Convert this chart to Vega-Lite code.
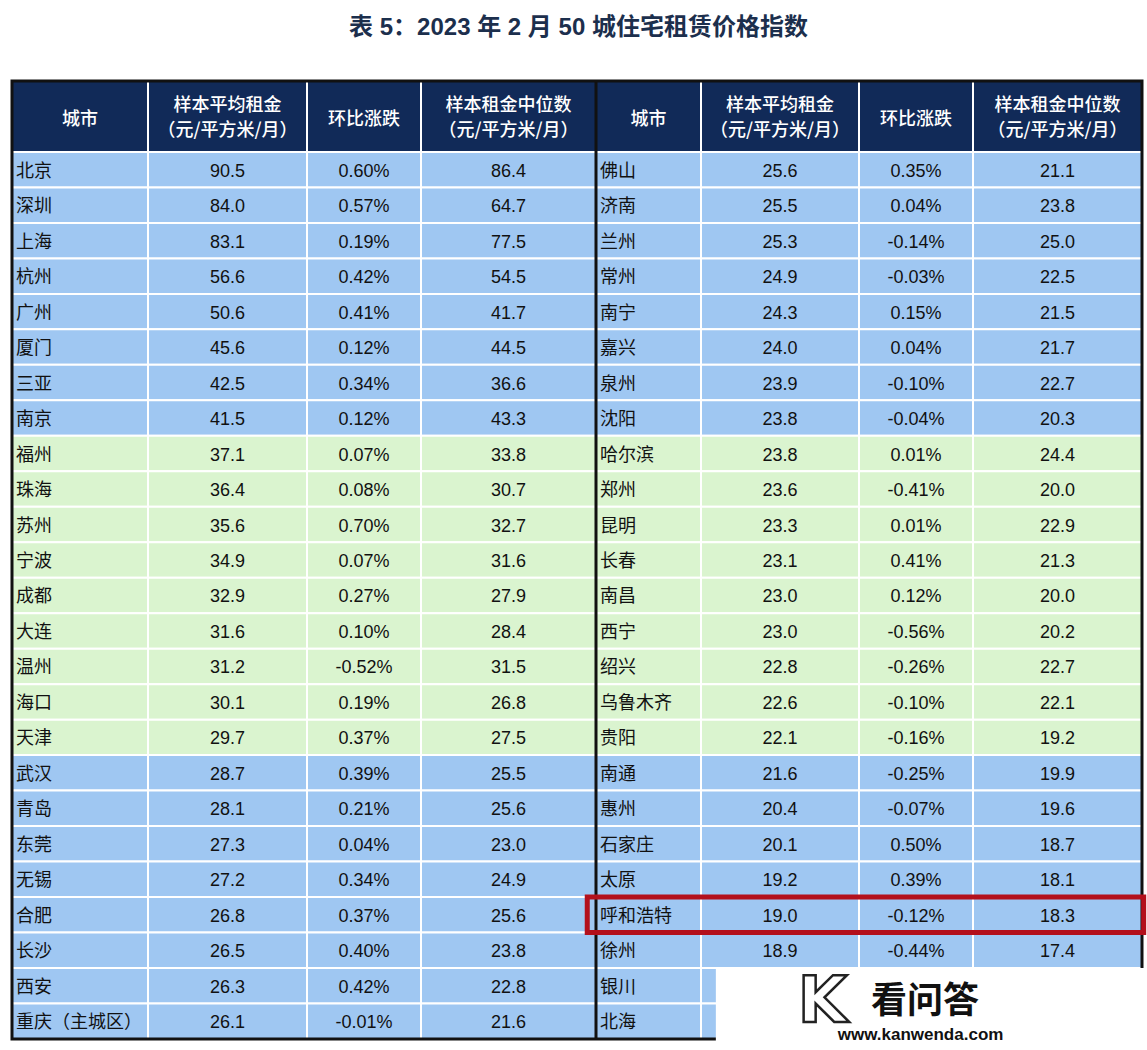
{
  "$schema": "https://vega.github.io/schema/vega-lite/v6.json",
  "width": 1147,
  "height": 1050,
  "autosize": "none",
  "padding": 0,
  "background": "white",
  "config": {
    "view": {"stroke": null},
    "axis": {"disable": true},
    "text": {"font": "Liberation Sans, Noto Sans CJK SC", "fontSize": 18, "color": "#111111"},
    "locale": {"number": {"decimal": ".", "thousands": ",", "grouping": [3], "currency": ["", ""], "minus": "-"}}
  },
  "datasets": {
    "cols": [
      {"key": "city1", "c0": 0, "c1": 1, "cm": 0.5},
      {"key": "avg1", "c0": 1, "c1": 2, "cm": 1.5},
      {"key": "chg1", "c0": 2, "c1": 3, "cm": 2.5},
      {"key": "med1", "c0": 3, "c1": 4, "cm": 3.5},
      {"key": "city2", "c0": 4, "c1": 5, "cm": 4.5},
      {"key": "avg2", "c0": 5, "c1": 6, "cm": 5.5},
      {"key": "chg2", "c0": 6, "c1": 7, "cm": 6.5},
      {"key": "med2", "c0": 7, "c1": 8, "cm": 7.5}
    ],
    "header": [
      {"key": "city1", "label": ["城市"]},
      {"key": "avg1", "label": ["样本平均租金", "（元/平方米/月）"]},
      {"key": "chg1", "label": ["环比涨跌"]},
      {"key": "med1", "label": ["样本租金中位数", "（元/平方米/月）"]},
      {"key": "city2", "label": ["城市"]},
      {"key": "avg2", "label": ["样本平均租金", "（元/平方米/月）"]},
      {"key": "chg2", "label": ["环比涨跌"]},
      {"key": "med2", "label": ["样本租金中位数", "（元/平方米/月）"]}
    ],
    "table": [
      {"city1": "北京", "avg1": 90.5, "chg1": 0.0060, "med1": 86.4, "city2": "佛山", "avg2": 25.6, "chg2": 0.0035, "med2": 21.1},
      {"city1": "深圳", "avg1": 84.0, "chg1": 0.0057, "med1": 64.7, "city2": "济南", "avg2": 25.5, "chg2": 0.0004, "med2": 23.8},
      {"city1": "上海", "avg1": 83.1, "chg1": 0.0019, "med1": 77.5, "city2": "兰州", "avg2": 25.3, "chg2": -0.0014, "med2": 25.0},
      {"city1": "杭州", "avg1": 56.6, "chg1": 0.0042, "med1": 54.5, "city2": "常州", "avg2": 24.9, "chg2": -0.0003, "med2": 22.5},
      {"city1": "广州", "avg1": 50.6, "chg1": 0.0041, "med1": 41.7, "city2": "南宁", "avg2": 24.3, "chg2": 0.0015, "med2": 21.5},
      {"city1": "厦门", "avg1": 45.6, "chg1": 0.0012, "med1": 44.5, "city2": "嘉兴", "avg2": 24.0, "chg2": 0.0004, "med2": 21.7},
      {"city1": "三亚", "avg1": 42.5, "chg1": 0.0034, "med1": 36.6, "city2": "泉州", "avg2": 23.9, "chg2": -0.0010, "med2": 22.7},
      {"city1": "南京", "avg1": 41.5, "chg1": 0.0012, "med1": 43.3, "city2": "沈阳", "avg2": 23.8, "chg2": -0.0004, "med2": 20.3},
      {"city1": "福州", "avg1": 37.1, "chg1": 0.0007, "med1": 33.8, "city2": "哈尔滨", "avg2": 23.8, "chg2": 0.0001, "med2": 24.4},
      {"city1": "珠海", "avg1": 36.4, "chg1": 0.0008, "med1": 30.7, "city2": "郑州", "avg2": 23.6, "chg2": -0.0041, "med2": 20.0},
      {"city1": "苏州", "avg1": 35.6, "chg1": 0.0070, "med1": 32.7, "city2": "昆明", "avg2": 23.3, "chg2": 0.0001, "med2": 22.9},
      {"city1": "宁波", "avg1": 34.9, "chg1": 0.0007, "med1": 31.6, "city2": "长春", "avg2": 23.1, "chg2": 0.0041, "med2": 21.3},
      {"city1": "成都", "avg1": 32.9, "chg1": 0.0027, "med1": 27.9, "city2": "南昌", "avg2": 23.0, "chg2": 0.0012, "med2": 20.0},
      {"city1": "大连", "avg1": 31.6, "chg1": 0.0010, "med1": 28.4, "city2": "西宁", "avg2": 23.0, "chg2": -0.0056, "med2": 20.2},
      {"city1": "温州", "avg1": 31.2, "chg1": -0.0052, "med1": 31.5, "city2": "绍兴", "avg2": 22.8, "chg2": -0.0026, "med2": 22.7},
      {"city1": "海口", "avg1": 30.1, "chg1": 0.0019, "med1": 26.8, "city2": "乌鲁木齐", "avg2": 22.6, "chg2": -0.0010, "med2": 22.1},
      {"city1": "天津", "avg1": 29.7, "chg1": 0.0037, "med1": 27.5, "city2": "贵阳", "avg2": 22.1, "chg2": -0.0016, "med2": 19.2},
      {"city1": "武汉", "avg1": 28.7, "chg1": 0.0039, "med1": 25.5, "city2": "南通", "avg2": 21.6, "chg2": -0.0025, "med2": 19.9},
      {"city1": "青岛", "avg1": 28.1, "chg1": 0.0021, "med1": 25.6, "city2": "惠州", "avg2": 20.4, "chg2": -0.0007, "med2": 19.6},
      {"city1": "东莞", "avg1": 27.3, "chg1": 0.0004, "med1": 23.0, "city2": "石家庄", "avg2": 20.1, "chg2": 0.0050, "med2": 18.7},
      {"city1": "无锡", "avg1": 27.2, "chg1": 0.0034, "med1": 24.9, "city2": "太原", "avg2": 19.2, "chg2": 0.0039, "med2": 18.1},
      {"city1": "合肥", "avg1": 26.8, "chg1": 0.0037, "med1": 25.6, "city2": "呼和浩特", "avg2": 19.0, "chg2": -0.0012, "med2": 18.3},
      {"city1": "长沙", "avg1": 26.5, "chg1": 0.0040, "med1": 23.8, "city2": "徐州", "avg2": 18.9, "chg2": -0.0044, "med2": 17.4},
      {"city1": "西安", "avg1": 26.3, "chg1": 0.0042, "med1": 22.8, "city2": "银川", "avg2": null, "chg2": null, "med2": null},
      {"city1": "重庆（主城区）", "avg1": 26.1, "chg1": -0.0001, "med1": 21.6, "city2": "北海", "avg2": null, "chg2": null, "med2": null}
    ]
  },
  "data": {"name": "table"},
  "transform": [{"window": [{"op": "row_number", "as": "r"}]}],
  "layer": [
    {
      "transform": [
        {"fold": ["city1", "avg1", "chg1", "med1", "city2", "avg2", "chg2", "med2"], "as": ["key", "value"]},
        {"lookup": "key", "from": {"data": {"name": "cols"}, "key": "key", "fields": ["c0", "c1"]}}
      ],
      "mark": {"type": "rect", "stroke": "white", "strokeWidth": 2},
      "encoding": {
        "x": {"field": "c0", "type": "quantitative", "scale": {"type": "linear", "domain": [0, 1, 2, 3, 4, 5, 6, 7, 8], "range": [12, 148, 307, 421, 596, 701, 859, 973, 1142], "zero": false, "nice": false}},
        "x2": {"field": "c1"},
        "y": {"field": "r", "type": "ordinal", "scale": {"type": "band", "domain": ["T", "S", "H1", "H2", 1, 2, 3, 4, 5, 6, 7, 8, 9, 10, 11, 12, 13, 14, 15, 16, 17, 18, 19, 20, 21, 22, 23, 24, 25], "range": [10.04, 1038.96], "paddingInner": 0, "paddingOuter": 0}},
        "fill": {"field": "r", "type": "quantitative", "scale": {"type": "threshold", "domain": [9, 18], "range": ["#9FC7F2", "#DAF4CF", "#9FC7F2"]}, "legend": null}
      }
    },
    {
      "data": {"name": "header"},
      "transform": [{"lookup": "key", "from": {"data": {"name": "cols"}, "key": "key", "fields": ["c0", "c1", "cm"]}}],
      "mark": {"type": "rect", "fill": "#112A58", "stroke": "white", "strokeWidth": 2},
      "encoding": {
        "x": {"field": "c0", "type": "quantitative"},
        "x2": {"field": "c1"},
        "y": {"datum": "H1", "type": "ordinal", "bandPosition": 0},
        "y2": {"datum": "H2", "bandPosition": 1}
      }
    },
    {
      "data": {"name": "header"},
      "transform": [
        {"filter": "length(datum.label) == 1"},
        {"lookup": "key", "from": {"data": {"name": "cols"}, "key": "key", "fields": ["c0", "c1", "cm"]}}
      ],
      "mark": {"type": "text", "color": "white", "align": "center", "baseline": "middle", "dy": 4, "font": "Noto Sans CJK SC", "fontSize": 18, "fontWeight": 500},
      "encoding": {
        "x": {"field": "cm", "type": "quantitative"},
        "y": {"datum": "H2", "type": "ordinal", "bandPosition": 0},
        "text": {"field": "label"}
      }
    },
    {
      "data": {"name": "header"},
      "transform": [
        {"filter": "length(datum.label) == 2"},
        {"lookup": "key", "from": {"data": {"name": "cols"}, "key": "key", "fields": ["c0", "c1", "cm"]}}
      ],
      "mark": {"type": "text", "color": "white", "align": "center", "baseline": "middle", "lineHeight": 25, "dy": -10, "font": "Noto Sans CJK SC", "fontSize": 18, "fontWeight": 500},
      "encoding": {
        "x": {"field": "cm", "type": "quantitative"},
        "y": {"datum": "H2", "type": "ordinal", "bandPosition": 0},
        "text": {"field": "label"}
      }
    },
    {
      "mark": {"type": "text", "align": "left", "baseline": "middle", "dx": 4, "dy": 2},
      "encoding": {"x": {"datum": 0, "type": "quantitative"}, "y": {"field": "r", "type": "ordinal"}, "text": {"field": "city1"}}
    },
    {
      "mark": {"type": "text", "align": "center", "baseline": "middle", "dy": 2},
      "encoding": {"x": {"datum": 1.5, "type": "quantitative"}, "y": {"field": "r", "type": "ordinal"}, "text": {"field": "avg1", "type": "quantitative", "format": ".1f"}}
    },
    {
      "mark": {"type": "text", "align": "center", "baseline": "middle", "dy": 2},
      "encoding": {"x": {"datum": 2.5, "type": "quantitative"}, "y": {"field": "r", "type": "ordinal"}, "text": {"field": "chg1", "type": "quantitative", "format": ".2%"}}
    },
    {
      "mark": {"type": "text", "align": "center", "baseline": "middle", "dy": 2},
      "encoding": {"x": {"datum": 3.5, "type": "quantitative"}, "y": {"field": "r", "type": "ordinal"}, "text": {"field": "med1", "type": "quantitative", "format": ".1f"}}
    },
    {
      "mark": {"type": "text", "align": "left", "baseline": "middle", "dx": 4, "dy": 2},
      "encoding": {"x": {"datum": 4, "type": "quantitative"}, "y": {"field": "r", "type": "ordinal"}, "text": {"field": "city2"}}
    },
    {
      "transform": [{"filter": "datum.avg2 != null"}],
      "mark": {"type": "text", "align": "center", "baseline": "middle", "dy": 2},
      "encoding": {"x": {"datum": 5.5, "type": "quantitative"}, "y": {"field": "r", "type": "ordinal"}, "text": {"field": "avg2", "type": "quantitative", "format": ".1f"}}
    },
    {
      "transform": [{"filter": "datum.chg2 != null"}],
      "mark": {"type": "text", "align": "center", "baseline": "middle", "dy": 2},
      "encoding": {"x": {"datum": 6.5, "type": "quantitative"}, "y": {"field": "r", "type": "ordinal"}, "text": {"field": "chg2", "type": "quantitative", "format": ".2%"}}
    },
    {
      "transform": [{"filter": "datum.med2 != null"}],
      "mark": {"type": "text", "align": "center", "baseline": "middle", "dy": 2},
      "encoding": {"x": {"datum": 7.5, "type": "quantitative"}, "y": {"field": "r", "type": "ordinal"}, "text": {"field": "med2", "type": "quantitative", "format": ".1f"}}
    },
    {
      "data": {"values": [{}]},
      "mark": {"type": "rule", "color": "#111111", "strokeWidth": 3},
      "encoding": {
        "x": {"datum": 4, "type": "quantitative"},
        "y": {"datum": "H1", "type": "ordinal", "bandPosition": 0},
        "y2": {"datum": 25, "bandPosition": 1}
      }
    },
    {
      "data": {"values": [{}]},
      "mark": {"type": "rect", "fill": null, "fillOpacity": 0, "stroke": "#111111", "strokeWidth": 3},
      "encoding": {
        "x": {"datum": 0, "type": "quantitative"},
        "x2": {"datum": 8},
        "y": {"datum": "H1", "type": "ordinal", "bandPosition": 0},
        "y2": {"datum": 25, "bandPosition": 1}
      }
    },
    {
      "transform": [{"filter": "datum.city2 === '呼和浩特'"}],
      "mark": {"type": "rect", "fillOpacity": 0, "stroke": "#B3101C", "strokeWidth": 5},
      "encoding": {
        "x": {"datum": 3.95, "type": "quantitative"},
        "x2": {"datum": 8.01},
        "y": {"field": "r", "type": "ordinal"}
      }
    },
    {
      "data": {"values": [{}]},
      "mark": {"type": "rect", "fill": "white"},
      "encoding": {
        "x": {"datum": 5.094, "type": "quantitative"},
        "x2": {"datum": 8.05},
        "y": {"datum": 24, "type": "ordinal", "bandPosition": 0},
        "y2": {"datum": 25, "bandPosition": 1.4}
      }
    },
    {
      "data": {"values": [{}]},
      "mark": {"type": "text", "text": "K", "font": "DejaVu Sans", "fontWeight": "bold", "fontSize": 64, "fill": "white", "stroke": "#222222", "strokeWidth": 2.5, "align": "center", "baseline": "middle"},
      "encoding": {"x": {"datum": 5.77, "type": "quantitative"}, "y": {"datum": 25, "type": "ordinal", "bandPosition": 0}}
    },
    {
      "data": {"values": [{}]},
      "mark": {"type": "text", "text": "看问答", "font": "Noto Sans CJK SC", "fontWeight": "bold", "fontSize": 36, "color": "#111111", "align": "center", "baseline": "middle"},
      "encoding": {"x": {"datum": 6.58, "type": "quantitative"}, "y": {"datum": 24, "type": "ordinal", "bandPosition": 0.95}}
    },
    {
      "data": {"values": [{}]},
      "mark": {"type": "text", "text": "www.kanwenda.com", "font": "Liberation Sans", "fontWeight": "bold", "fontSize": 17, "color": "#111111", "align": "center", "baseline": "middle"},
      "encoding": {"x": {"datum": 6.54, "type": "quantitative"}, "y": {"datum": 25, "type": "ordinal", "bandPosition": 0.9}}
    },
    {
      "data": {"values": [{}]},
      "mark": {"type": "text", "text": "表 5：2023 年 2 月 50 城住宅租赁价格指数", "font": "Liberation Sans, Noto Sans CJK SC", "fontWeight": "bold", "fontSize": 24, "color": "#1C2F4D", "align": "center", "baseline": "middle"},
      "encoding": {"x": {"datum": 3.9, "type": "quantitative"}, "y": {"datum": "T", "type": "ordinal"}}
    }
  ]
}
